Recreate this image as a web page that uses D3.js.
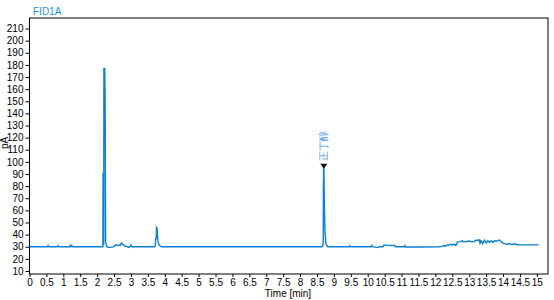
<!DOCTYPE html>
<html><head><meta charset="utf-8">
<script src="https://cdn.jsdelivr.net/npm/d3@7"></script>
<style>
body{margin:0;background:#fff;}
text{font-family:Arial,"Liberation Sans",sans-serif;}
</style></head>
<body><svg id="c" width="554" height="300"></svg>
<script>
const title = "FID1A";
const yLabel = "pA";
const xLabel = "Time [min]";
const peakLabel = "正丁醇";
const peakTime = 8.70;
const peakValue = 96;
const xTicks = d3.range(0, 15.01, 0.5);
const yTicks = d3.range(10, 211, 10);
const times = [0,0.53,0.55,0.57,0.82,0.84,0.86,1.18,1.2,1.22,1.25,1.27,2.165,2.17,2.175,2.185,2.195,2.20,2.225,2.23,2.235,2.24,2.25,2.26,2.29,2.33,2.4,2.5,2.55,2.6,2.65,2.68,2.72,2.75,2.78,2.82,2.9,2.95,3.0,3.02,3.1,3.70,3.72,3.73,3.745,3.755,3.77,3.785,3.795,3.81,3.84,3.87,3.9,8.64,8.67,8.685,8.69,8.70,8.705,8.71,8.72,8.73,8.74,8.75,8.76,8.79,8.82,9.45,9.47,9.49,10.1,10.12,10.14,10.3,10.35,10.45,10.48,10.55,10.8,10.82,11.08,11.1,11.12,11.6,12.1,12.2,12.25,12.3,12.35,12.4,12.45,12.5,12.55,12.6,12.63,12.65,12.75,12.8,12.82,12.95,13.0,13.02,13.15,13.2,13.3,13.32,13.35,13.4,13.45,13.5,13.55,13.6,13.65,13.7,13.75,13.8,13.85,13.9,13.95,14.0,14.05,14.1,14.2,14.25,14.35,14.4,14.5,14.9,15.05];
const values = [30,30,31,30,30,30.8,30,30,31,30,31,30,30,30,91,32,32,177,177,162,160,120,34,33,30,29.5,29.5,30,31.5,31,31.5,31,33,32,31.5,30.5,30,29.5,31.5,30,30,30,31,37,36,46,45.5,39,35,33,31,30.5,30,30,30.5,35,80,96,96,80,62,48,40,38,33,31,30,30,30.8,30,30,31,30,29.3,30,30,31.5,31.2,31,30,30,31,29.8,29.8,30,30.3,31,30.5,31.5,31,32,31.5,32.2,31,32,34,34.2,35,34,34.3,35,34.2,34.3,35.3,35.5,33,35,32.5,35.3,33,35,33.5,35,33.5,35,34.5,35,35.5,34,33,32.5,32,32.5,31.8,32.5,31.8,31.5,31.5,31.5];

const svg = d3.select("#c");
const L=29.5, R=548, T=18, B=274;
const x = d3.scaleLinear().domain([0,15.33]).range([L,R]);
const y = d3.scaleLinear().domain([7.5,218.7]).range([B,T]);
const lineColor = "#0a7fd6";

svg.append("rect").attr("x",L).attr("y",T).attr("width",R-L).attr("height",B-T)
  .attr("fill","none").attr("stroke","#000").attr("stroke-width",1);

const ya = svg.append("g").attr("transform",`translate(${L},0)`)
  .call(d3.axisLeft(y).tickValues(yTicks).tickSize(4).tickPadding(2).tickFormat(d3.format("d")));
const xa = svg.append("g").attr("transform",`translate(0,${B})`)
  .call(d3.axisBottom(x).tickValues(xTicks).tickSize(3).tickPadding(2).tickFormat(d=>d3.format("")(d)));
[ya,xa].forEach(g=>{
  g.select(".domain").remove();
  g.selectAll("text").attr("font-size",10).attr("fill","#000").attr("font-family","Arial, 'Liberation Sans', sans-serif");
  g.selectAll("line").attr("stroke","#000");
});

const pts = times.map((t,i)=>[t,values[i]]);
svg.append("path").datum(pts)
  .attr("fill","none").attr("stroke",lineColor).attr("stroke-width",1.4)
  .attr("d", d3.line().x(d=>x(d[0])).y(d=>y(d[1])));

svg.append("text").attr("x",33).attr("y",15).attr("font-size",10).attr("fill","#2b8fe0").text(title);
svg.append("text").attr("transform","translate(8,143) rotate(-90)").attr("text-anchor","middle")
  .attr("font-size",10).attr("fill","#000").text(yLabel);
svg.append("text").attr("x",288).attr("y",297).attr("text-anchor","middle")
  .attr("font-size",10).attr("fill","#000").text(xLabel);

const px = x(peakTime), py = y(peakValue);
svg.append("path").attr("d",`M${px-3.5},${py-3}L${px+3.5},${py-3}L${px},${py+2}Z`).attr("fill","#111");
svg.append("text").attr("transform",`translate(${px+3.5},${py-6}) rotate(-90)`)
  .attr("font-size",10).attr("fill","#4a94dc").attr("font-family","'Noto Sans CJK SC', sans-serif").text(peakLabel);
</script></body></html>
